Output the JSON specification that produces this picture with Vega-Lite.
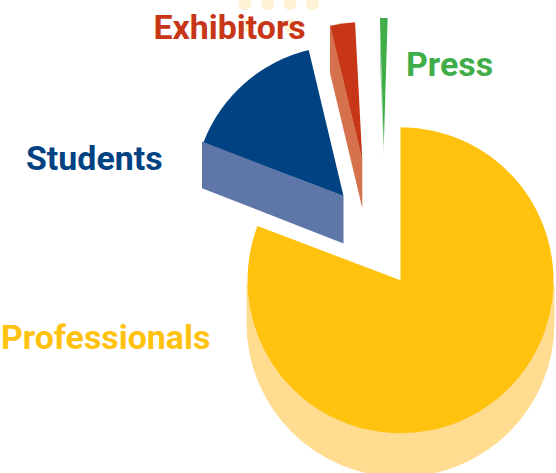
{
"$schema":"https://vega.github.io/schema/vega-lite/v6.json",
"width":556,"height":473,"padding":0,"autosize":{"type":"none"},
"background":"#ffffff",
"config":{"view":{"stroke":null},"axis":{"disable":true}},
"datasets":{
"slices":[
{"segment":"Professionals","cx":400.5,"cy":280.3,"r":153,"start":0,"end":290.8},
{"segment":"Students","cx":343.5,"cy":196,"r":150,"start":291,"end":346.6},
{"segment":"Exhibitors","cx":362.3,"cy":160,"r":138,"start":346.5,"end":357},
{"segment":"Press","cx":383.8,"cy":145,"r":127,"start":358.26,"end":361.74}
],
"walls":[
{"segment":"Professionals","x":246.5,"top":285,"bottom":323},
{"segment":"Professionals","x":554.5,"top":285,"bottom":323},
{"segment":"Students","x":202,"top":141.5,"bottom":188.3},
{"segment":"Students","x":343.5,"top":196,"bottom":243.5},
{"segment":"Exhibitors","x":330,"top":25,"bottom":73},
{"segment":"Exhibitors","x":362.3,"top":160,"bottom":208},
{"segment":"Press","x":380,"top":18.5,"bottom":65},
{"segment":"Press","x":383.8,"top":145,"bottom":155}
],
"wallBase":[
{"segment":"Professionals","cx":400.5,"cy":323,"r":154,"start":90,"end":270}
],
"dots":[{"x":245,"y":3.5},{"x":267.5,"y":3.5},{"x":290,"y":3.5},{"x":312.5,"y":3.5},{"x":290,"y":25.5},{"x":245,"y":25.5}],
"labels":[
{"segment":"Exhibitors","x":153.5,"y":38.5},
{"segment":"Press","x":406,"y":75.5},
{"segment":"Students","x":26,"y":170},
{"segment":"Professionals","x":1,"y":349}
]
},
"resolve":{"scale":{"color":"independent"}},
"layer":[
{"data":{"name":"dots"},"mark":{"type":"point","filled":true,"opacity":1,"size":177,"color":"#FFF2D6"},
"encoding":{"x":{"field":"x","type":"quantitative","scale":{"domain":[0,556],"nice":false,"zero":false}},"y":{"field":"y","type":"quantitative","scale":{"domain":[473,0],"nice":false,"zero":false}}}},
{"data":{"name":"wallBase"},"mark":{"type":"arc"},
"encoding":{
"x":{"field":"cx","type":"quantitative","scale":{"domain":[0,556],"nice":false,"zero":false}},"y":{"field":"cy","type":"quantitative","scale":{"domain":[473,0],"nice":false,"zero":false}},
"theta":{"field":"start","type":"quantitative","stack":null,"scale":{"domain":[0,360],"range":[0,6.283185]}},
"theta2":{"field":"end"},
"radius":{"field":"r","type":"quantitative","scale":{"type":"linear","domain":[0,200],"range":[0,200]}},
"color":{"field":"segment","type":"nominal","legend":null,"scale":{"domain":["Professionals"],"range":["#FFDC90"]}}}},
{"data":{"name":"walls"},"mark":{"type":"area","orient":"vertical","opacity":1},
"encoding":{
"x":{"field":"x","type":"quantitative","scale":{"domain":[0,556],"nice":false,"zero":false}},
"y":{"field":"top","type":"quantitative","stack":null,"scale":{"domain":[473,0],"nice":false,"zero":false}},
"y2":{"field":"bottom"},
"detail":{"field":"segment"},
"color":{"field":"segment","type":"nominal","legend":null,"scale":{"domain":["Professionals","Students","Exhibitors","Press"],"range":["#FFDC90","#5F76A8","#D5714C","#A8D6AC"]}}}},
{"data":{"name":"slices"},"mark":{"type":"arc"},
"encoding":{
"x":{"field":"cx","type":"quantitative","scale":{"domain":[0,556],"nice":false,"zero":false}},"y":{"field":"cy","type":"quantitative","scale":{"domain":[473,0],"nice":false,"zero":false}},
"theta":{"field":"start","type":"quantitative","stack":null,"scale":{"domain":[0,360],"range":[0,6.283185]}},
"theta2":{"field":"end"},
"radius":{"field":"r","type":"quantitative","scale":{"type":"linear","domain":[0,200],"range":[0,200]}},
"color":{"field":"segment","type":"nominal","legend":null,"scale":{"domain":["Professionals","Students","Exhibitors","Press"],"range":["#FFC20E","#014282","#C73617","#3FAE49"]}}}},
{"data":{"name":"labels"},"mark":{"type":"text","font":"Roboto","fontWeight":"bold","fontSize":33.9,"align":"left","baseline":"alphabetic"},
"encoding":{
"x":{"field":"x","type":"quantitative","scale":{"domain":[0,556],"nice":false,"zero":false}},"y":{"field":"y","type":"quantitative","scale":{"domain":[473,0],"nice":false,"zero":false}},
"text":{"field":"segment"},
"color":{"field":"segment","type":"nominal","legend":null,"scale":{"domain":["Professionals","Students","Exhibitors","Press"],"range":["#FFC20E","#014282","#C73617","#3FAE49"]}}}}
]
}
